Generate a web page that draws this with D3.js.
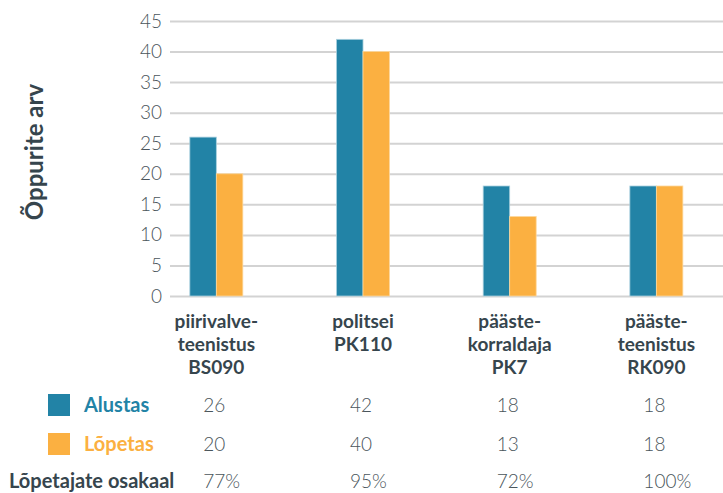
<!DOCTYPE html>
<html>
<head>
<meta charset="utf-8">
<script src="https://cdn.jsdelivr.net/npm/d3@7"></script>
<style>
  body { margin: 0; background: #fff; }
  text { font-family: Lato, sans-serif; }
</style>
</head>
<body>
<div id="container"></div>
<script>
/* DATA */
const categories = [
  ["piirivalve-", "teenistus", "BS090"],
  ["politsei", "PK110"],
  ["pääste-", "korraldaja", "PK7"],
  ["pääste-", "teenistus", "RK090"]
];
const seriesNames = ["Alustas", "Lõpetas"];
const alustas = [26, 42, 18, 18];
const lopetas = [20, 40, 13, 18];
const osakaal = ["77%", "95%", "72%", "100%"];
const yTicks = [0, 5, 10, 15, 20, 25, 30, 35, 40, 45];

/* CONSTANTS */
const width = 723, height = 493;
const colors = ["#2283a6", "#fbb041"];
const textDark = "#36454d";
const font = "Lato, sans-serif";

const svg = d3.select("#container")
  .append("svg")
  .attr("width", width)
  .attr("height", height);

// SCALES
const y = d3.scaleLinear().domain([0, 45]).range([296, 21]);
const x = d3.scaleBand().domain(d3.range(categories.length)).range([143, 729.7]);
const xInner = d3.scaleBand().domain(seriesNames)
  .range([x.bandwidth() / 2 - 26.5, x.bandwidth() / 2 + 26.5]);

// GRID + Y AXIS
const yAxis = d3.axisLeft(y).tickValues(yTicks).tickSize(-(width - 170)).tickPadding(8);
const gy = svg.append("g").attr("transform", "translate(170,0)").call(yAxis);
gy.select(".domain").remove();
gy.selectAll(".tick line").attr("stroke", "#d3d3d3").attr("stroke-width", 2);
gy.selectAll(".tick text")
  .attr("x", -8)
  .attr("fill", "#4a555b")
  .attr("font-size", 19)
  .attr("font-weight", 300)
  .style("font-family", font);

// Y TITLE
svg.append("text")
  .attr("transform", "translate(43,152) rotate(-90)")
  .attr("text-anchor", "middle")
  .attr("font-size", 24)
  .attr("font-weight", 700)
  .attr("fill", textDark)
  .text("Õppurite arv");

// BARS
const rows = categories.map((c, i) => ({ i, values: [alustas[i], lopetas[i]] }));
const groups = svg.selectAll("g.group")
  .data(rows)
  .join("g")
  .attr("class", "group")
  .attr("transform", d => `translate(${x(d.i)},0)`);

groups.selectAll("rect")
  .data(d => d.values.map((v, k) => ({ v, k })))
  .join("rect")
  .attr("x", d => xInner(seriesNames[d.k]))
  .attr("y", d => y(d.v))
  .attr("width", xInner.bandwidth())
  .attr("height", d => y(0) - y(d.v))
  .attr("fill", d => colors[d.k])
  .attr("stroke", d => d.k === 0 ? "#a9d0de" : "#fdd89c")
  .attr("stroke-width", 0.8);

// CATEGORY LABELS
groups.append("text")
  .attr("text-anchor", "middle")
  .attr("font-size", 19)
  .attr("font-weight", 700)
  .attr("fill", textDark)
  .selectAll("tspan")
  .data(d => categories[d.i])
  .join("tspan")
  .attr("x", x.bandwidth() / 2)
  .attr("y", (d, k) => 328 + k * 23)
  .text(d => d);

// TABLE
const rowY = [412, 451, 488];
seriesNames.forEach((name, k) => {
  svg.append("rect")
    .attr("x", 48).attr("y", rowY[k] - 18)
    .attr("width", 22).attr("height", 22)
    .attr("fill", colors[k]);
  svg.append("text")
    .attr("x", 84).attr("y", rowY[k])
    .attr("font-size", 20)
    .attr("font-weight", 700)
    .attr("fill", colors[k])
    .text(name);
});
svg.append("text")
  .attr("x", 9).attr("y", rowY[2])
  .attr("font-size", 20)
  .attr("font-weight", 700)
  .attr("fill", textDark)
  .text("Lõpetajate osakaal");

const tableRows = [alustas, lopetas, osakaal];
tableRows.forEach((vals, r) => {
  svg.selectAll(`text.cell${r}`)
    .data(vals)
    .join("text")
    .attr("class", `cell${r}`)
    .attr("x", (d, i) => x(i) + x.bandwidth() / 2 - 13)
    .attr("y", rowY[r])
    .attr("font-size", 19)
    .attr("font-weight", 300)
    .attr("fill", "#4a555b")
    .text(d => d);
});
</script>
</body>
</html>
